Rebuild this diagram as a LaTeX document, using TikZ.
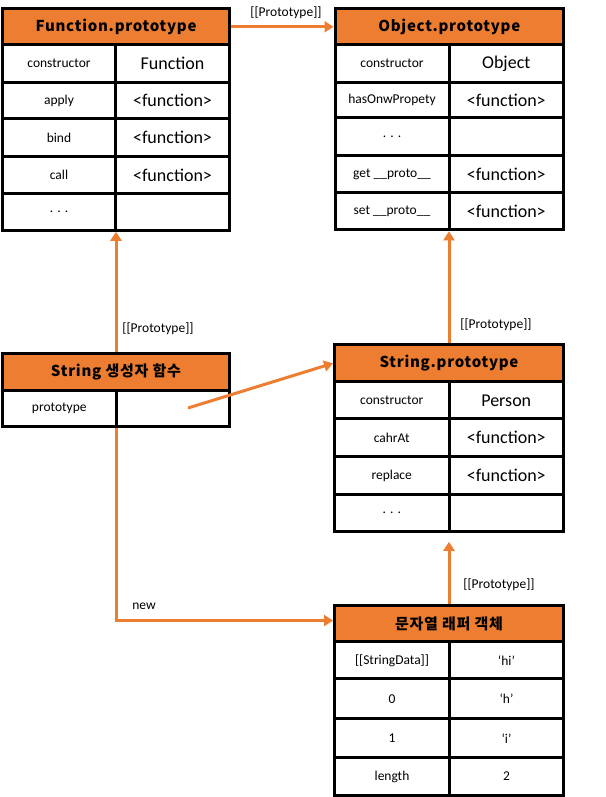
\documentclass[tikz,border=0pt]{standalone}
\usepackage{fontspec}
\setmainfont{Carlito}
\newfontfamily\hdrfont{Noto Sans CJK KR}[LetterSpace=5]
\usetikzlibrary{arrows.meta}
\definecolor{org}{HTML}{ED7D31}
\tikzset{
  hdr/.style={draw=black, line width=3pt, fill=org, inner sep=0pt,
    font=\hdrfont\bfseries\fontsize{15}{18}\selectfont},
  keyc/.style={draw=black, line width=3pt, fill=white, inner sep=0pt,
    font=\fontsize{13.5}{16}\selectfont},
  valc/.style={draw=black, line width=3pt, fill=white, inner sep=0pt,
    font=\fontsize{18}{21}\selectfont},
  conn/.style={draw=org, line width=3pt, -{Triangle[width=11pt,length=9pt]}},
  lbl/.style={inner sep=0pt, font=\fontsize{13.5}{16}\selectfont}
}
\newcommand\tcell[7]{%
  \pgfmathsetmacro\cw{#4-#2}\pgfmathsetmacro\ch{#5-#3}%
  \node[#6, minimum width=\cw pt, minimum height=\ch pt] (#1) at ({(#2+#4)/2},{(#3+#5)/2+0.8}) {#7};}
\begin{document}
\begin{tikzpicture}[x=1pt,y=-1pt]
\useasboundingbox (0,0) rectangle (605,797);
% Function.prototype
\tcell{Fh}{2.5}{8}{229.5}{44}{hdr}{Function.prototype}
\tcell{Fk1}{2.5}{44}{115.5}{81.5}{keyc}{constructor}
\tcell{Fv1}{115.5}{44}{229.5}{81.5}{valc}{Function}
\tcell{Fk2}{2.5}{81.5}{115.5}{118}{keyc}{apply}
\tcell{Fv2}{115.5}{81.5}{229.5}{118}{valc}{<function>}
\tcell{Fk3}{2.5}{118}{115.5}{155.5}{keyc}{bind}
\tcell{Fv3}{115.5}{118}{229.5}{155.5}{valc}{<function>}
\tcell{Fk4}{2.5}{155.5}{115.5}{193}{keyc}{call}
\tcell{Fv4}{115.5}{155.5}{229.5}{193}{valc}{<function>}
\tcell{Fk5}{2.5}{193}{115.5}{229.5}{keyc}{. . .}
\tcell{Fv5}{115.5}{193}{229.5}{229.5}{valc}{}
% Object.prototype
\tcell{Oh}{335}{8}{563.5}{44}{hdr}{Object.prototype}
\tcell{Ok1}{335}{44}{449}{81.5}{keyc}{constructor}
\tcell{Ov1}{449}{44}{563.5}{81.5}{valc}{Object}
\tcell{Ok2}{335}{81.5}{449}{117}{keyc}{hasOnwPropety}
\tcell{Ov2}{449}{81.5}{563.5}{117}{valc}{<function>}
\tcell{Ok3}{335}{117}{449}{154.5}{keyc}{. . .}
\tcell{Ov3}{449}{117}{563.5}{154.5}{valc}{}
\tcell{Ok4}{335}{154.5}{449}{192}{keyc}{get \_\_proto\_\_}
\tcell{Ov4}{449}{154.5}{563.5}{192}{valc}{<function>}
\tcell{Ok5}{335}{192}{449}{229}{keyc}{set \_\_proto\_\_}
\tcell{Ov5}{449}{192}{563.5}{229}{valc}{<function>}
% String constructor
\tcell{Sh}{2.5}{353}{229.5}{390}{hdr}{String 생성자 함수}
\tcell{Sk1}{2.5}{390}{116}{426}{keyc}{prototype}
\tcell{Sv1}{116}{390}{229.5}{426}{valc}{}
% String.prototype
\tcell{Ph}{334.5}{344}{563.5}{381}{hdr}{String.prototype}
\tcell{Pk1}{334.5}{381}{449}{418}{keyc}{constructor}
\tcell{Pv1}{449}{381}{563.5}{418}{valc}{Person}
\tcell{Pk2}{334.5}{418}{449}{456}{keyc}{cahrAt}
\tcell{Pv2}{449}{418}{563.5}{456}{valc}{<function>}
\tcell{Pk3}{334.5}{456}{449}{494}{keyc}{replace}
\tcell{Pv3}{449}{456}{563.5}{494}{valc}{<function>}
\tcell{Pk4}{334.5}{494}{449}{530.5}{keyc}{. . .}
\tcell{Pv4}{449}{494}{563.5}{530.5}{valc}{}
% wrapper object
\tcell{Wh}{334.5}{604.5}{563.5}{641}{hdr}{문자열 래퍼 객체}
\tcell{Wk1}{334.5}{641}{449.5}{678}{keyc}{[[StringData]]}
\tcell{Wv1}{449.5}{641}{563.5}{678}{keyc}{‘hi’}
\tcell{Wk2}{334.5}{678}{449.5}{718}{keyc}{0}
\tcell{Wv2}{449.5}{678}{563.5}{718}{keyc}{‘h’}
\tcell{Wk3}{334.5}{718}{449.5}{757}{keyc}{1}
\tcell{Wv3}{449.5}{718}{563.5}{757}{keyc}{‘i’}
\tcell{Wk4}{334.5}{757}{449.5}{794.5}{keyc}{length}
\tcell{Wv4}{449.5}{757}{563.5}{794.5}{keyc}{2}
% connectors
\coordinate (pstart) at (188,408);
\coordinate (nstart) at (116,427.5);
\draw[conn] (Fh.east) -- (Oh.west);
\draw[conn] (Sh.north) -- (Sh.north |- Fk5.south);
\draw[conn] (Ph.north) -- (Ph.north |- Ok5.south);
\draw[conn] (pstart) -- (Ph.west);
\draw[conn] (nstart) |- ([yshift=3pt]Wh.west);
\draw[conn] (Wh.north) -- ([yshift=-9pt]Wh.north |- Pk4.south);
% labels
\node[lbl] (l1) at (286,12.5) {[[Prototype]]};
\node[lbl] (l2) at (158,329) {[[Prototype]]};
\node[lbl] (l3) at (496,325) {[[Prototype]]};
\node[lbl] (l4) at (499,585) {[[Prototype]]};
\node[lbl] (l5) at (144,606) {new};
\end{tikzpicture}
\end{document}
